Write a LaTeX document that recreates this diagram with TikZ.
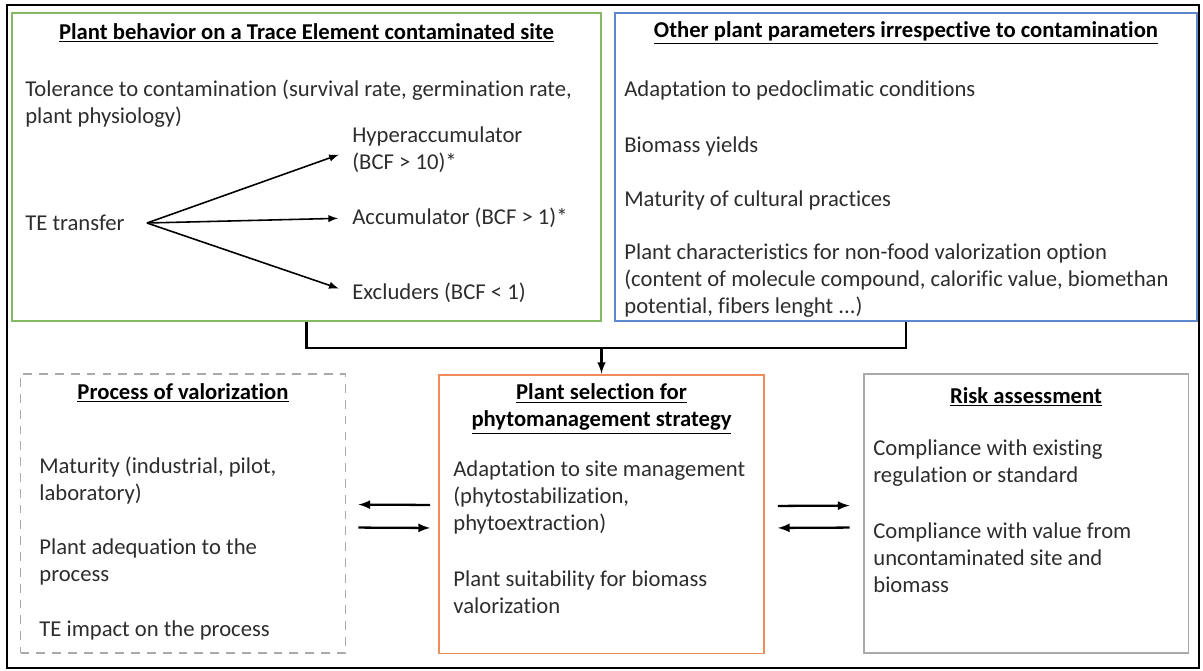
\documentclass[tikz,border=0pt]{standalone}
\usepackage{fontspec}
\setmainfont{Carlito}[Ligatures=NoCommon]
\usetikzlibrary{positioning}

\definecolor{boxgreen}{RGB}{135,185,100}
\definecolor{boxblue}{RGB}{95,135,205}
\definecolor{boxorange}{RGB}{238,140,90}
\definecolor{boxgray}{RGB}{170,170,170}
\definecolor{txtgray}{RGB}{45,45,45}

\begin{document}
\begin{tikzpicture}[x=0.02cm, y=-0.02cm,
    every node/.style={inner sep=0pt, font=\fontsize{12.9}{15.4}\selectfont, text=txtgray},
    panel/.style={draw, line width=1.1pt, minimum height=6.16cm},
    lowpanel/.style={draw, line width=1.1pt, minimum width=6.5cm, minimum height=5.58cm},
    head/.style={font=\fontsize{12.9}{15.4}\selectfont\bfseries, text=black, align=center},
    item/.style={anchor=west, align=left},
    flow/.style={-latex, line width=0.9pt}]

\useasboundingbox (0,0) rectangle (1203,670);

% Frame around everything
\node[draw, line width=1.4pt, minimum width=23.84cm, minimum height=13.26cm] (frame) at (603,336.5) {};

% Top row
\node[panel, draw=boxgreen, minimum width=11.78cm] (plant) at (306.5,167) {};
\node[panel, draw=boxblue, minimum width=11.64cm] (other) at (906,167) {};

% Bottom row
\node[lowpanel, draw=boxgray, dash pattern=on 5pt off 4pt] (proc) at (183,513.5) {};
\node[lowpanel, draw=boxorange] (sel) at (601.5,514) {};
\node[lowpanel, draw=boxgray] (risk) at (1026,513.5) {};

% Plant behavior
\node[head] (plantT) at (306.5,33) {\underline{Plant behavior on a Trace Element contaminated site}};
\node[item] (tol) at (25,103.5) {Tolerance to contamination (survival rate, germination rate,\\plant physiology)};
\node[item] (te) at (25,223) {TE transfer};
\node[item] (hyper) at (352,150) {Hyperaccumulator\\(BCF > 10)*};
\node[item] (acc) at (352,218) {Accumulator (BCF > 1)*};
\node[item] (excl) at (352,293) {Excluders (BCF < 1)};
\coordinate (fork) at (147,223);
\draw[flow] (fork) -- (hyper.west) [shorten >=0.28cm];
\draw[flow] (fork) -- (acc.west) [shorten >=0.28cm];
\draw[flow] (fork) -- (excl.west) [shorten >=0.28cm];

% Other parameters
\node[head] (otherT) at (906,33) {\underline{Other plant parameters irrespective to contamination}};
\node[item] (pedo) at (624,90) {Adaptation to pedoclimatic conditions};
\node[item] (yield) at (624,146) {Biomass yields};
\node[item] (cult) at (624,200) {Maturity of cultural practices};
\node[item] (charac) at (624,281) {Plant characteristics for non-food valorization option\\(content of molecule compound, calorific value, biomethan\\potential, fibers lenght ...)};

% Process of valorization
\node[head] (procT) at (183,393) {\underline{Process of valorization}};
\node[item] (mat) at (39,480.5) {Maturity (industrial, pilot,\\laboratory)};
\node[item] (adeq) at (39,561.5) {Plant adequation to the\\process};
\node[item] (imp) at (39,630) {TE impact on the process};

% Plant selection
\node[head] (selT) at (601.5,409) {\underline{Plant selection for}\\\underline{phytomanagement strategy}};
\node[item] (site) at (453,497.5) {Adaptation to site management\\(phytostabilization,\\phytoextraction)};
\node[item] (suit) at (453,592.5) {Plant suitability for biomass\\valorization};

% Risk assessment
\node[head] (riskT) at (1026,397) {\underline{Risk assessment}};
\node[item] (reg) at (873,463.5) {Compliance with existing\\regulation or standard};
\node[item] (unc) at (873,558) {Compliance with value from\\uncontaminated site and\\biomass};

% Links
\coordinate (bus) at (601.5,348);
\draw[line width=1.6pt] (plant.south) |- (bus) -| (other.south);
\draw[flow, line width=1.2pt] (bus) -- (sel.north);

\draw[flow, line width=1.3pt, shorten <=0.16cm, shorten >=0.24cm] ([yshift=0.18cm]sel.west) -- ([yshift=0.18cm]proc.east);
\draw[flow, line width=1.3pt, shorten <=0.24cm, shorten >=0.16cm] ([yshift=-0.28cm]proc.east) -- ([yshift=-0.28cm]sel.west);
\draw[flow, line width=1.3pt, shorten <=0.26cm, shorten >=0.26cm] ([yshift=0.16cm]sel.east) -- ([yshift=0.16cm]risk.west);
\draw[flow, line width=1.3pt, shorten <=0.26cm, shorten >=0.26cm] ([yshift=-0.28cm]risk.west) -- ([yshift=-0.28cm]sel.east);

\end{tikzpicture}
\end{document}
